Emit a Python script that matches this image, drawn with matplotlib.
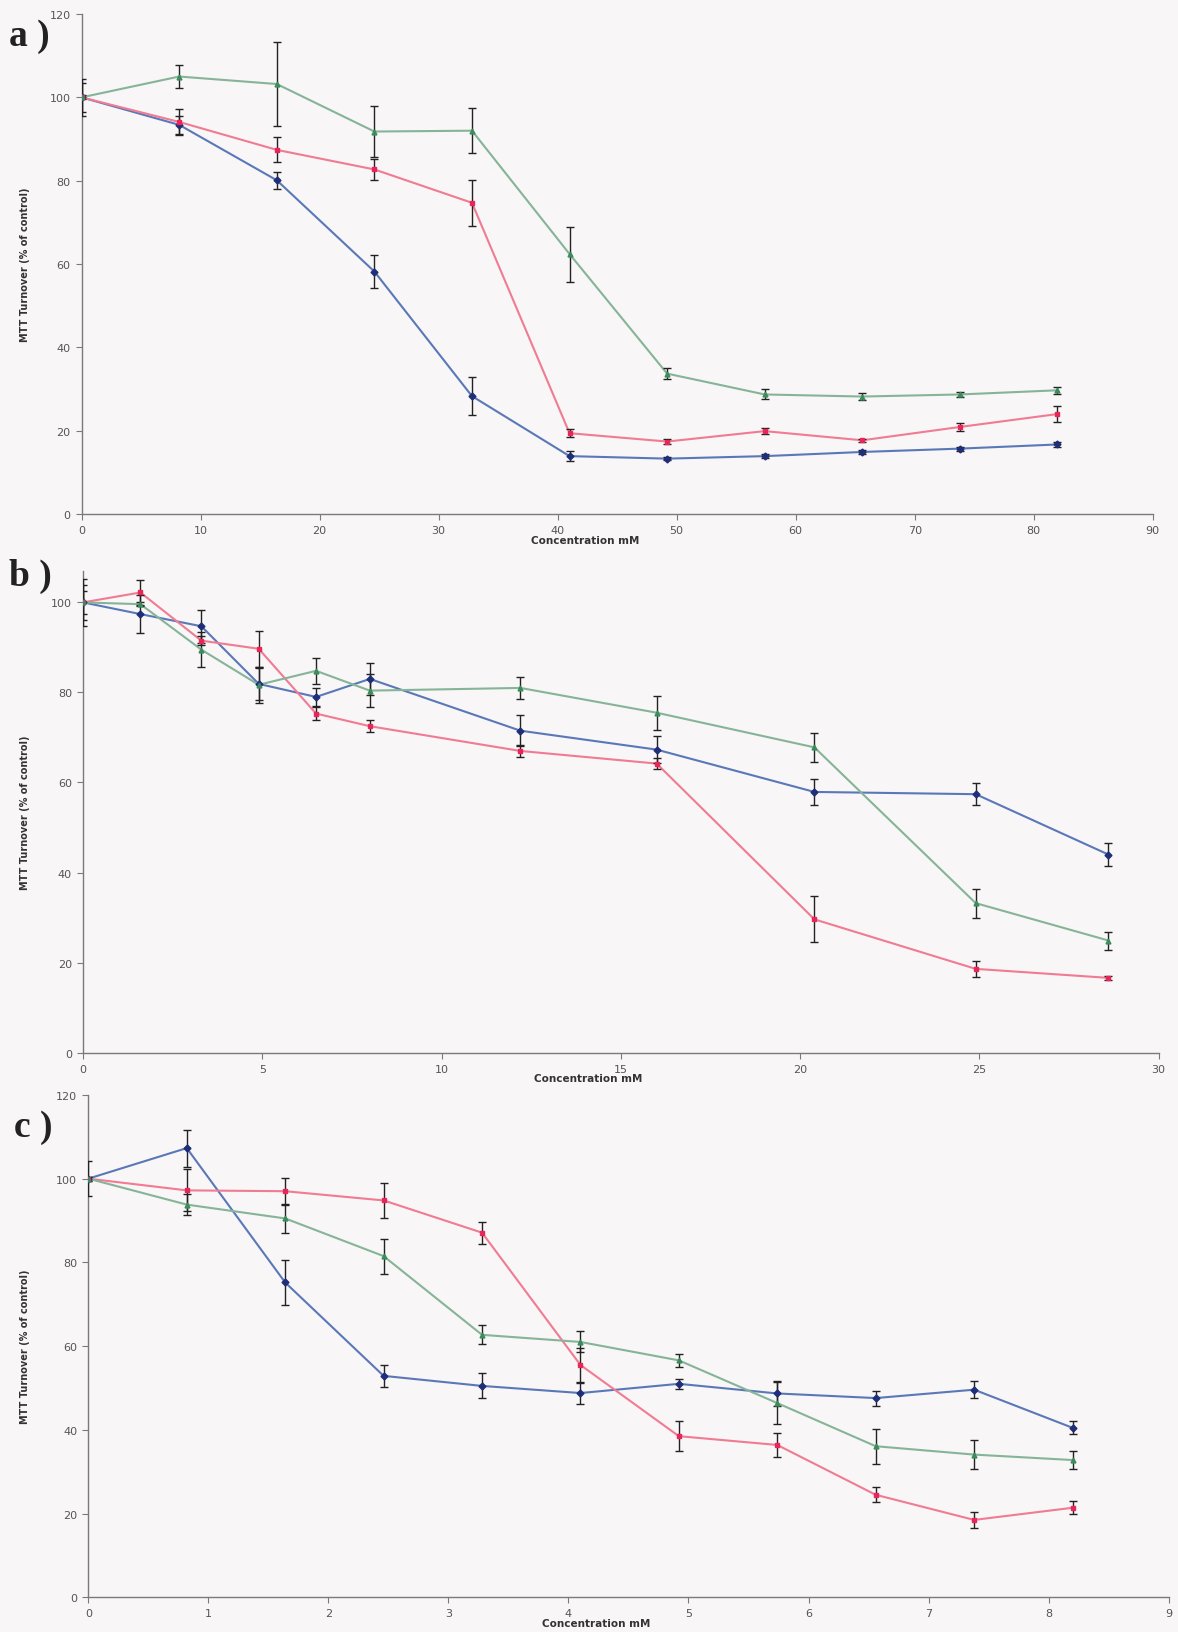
import matplotlib
matplotlib.use("Agg")
import matplotlib.pyplot as plt

# ---- panel a ----
conc_a = [0, 8.2, 16.4, 24.6, 32.8, 41.0, 49.2, 57.4, 65.6, 73.8, 82.0]
blue_a = [100, 93.4, 80.1, 58.2, 28.3, 13.9, 13.3, 13.9, 14.9, 15.7, 16.7]
blue_a_err = [3.5, 2.2, 2.0, 3.9, 4.5, 1.2, 0.4, 0.5, 0.5, 0.5, 0.6]
red_a = [100, 94.1, 87.4, 82.7, 74.7, 19.4, 17.4, 19.9, 17.7, 20.9, 24.0]
red_a_err = [0.5, 3.2, 3.0, 2.6, 5.5, 1.0, 0.5, 0.8, 0.4, 1.0, 2.0]
green_a = [100, 105.0, 103.2, 91.8, 92.0, 62.4, 33.7, 28.7, 28.2, 28.7, 29.7]
green_a_err = [4.5, 2.8, 10.1, 6.1, 5.4, 6.6, 1.3, 1.2, 0.8, 0.5, 0.8]

# ---- panel b ----
conc_b = [0, 1.6, 3.3, 4.9, 6.5, 8.0, 12.2, 16.0, 20.4, 24.9, 28.6]
blue_b = [100, 97.4, 94.7, 81.9, 79.0, 83.0, 71.5, 67.3, 57.9, 57.4, 44.0]
blue_b_err = [5.3, 4.2, 3.7, 3.5, 2.0, 3.5, 3.5, 3.0, 2.9, 2.5, 2.6]
red_b = [100, 102.2, 91.5, 89.7, 75.3, 72.5, 67.0, 64.2, 29.6, 18.6, 16.6]
red_b_err = [2.5, 2.7, 1.0, 4.0, 1.5, 1.3, 1.3, 1.2, 5.1, 1.8, 0.4]
green_b = [100, 99.6, 89.5, 81.7, 84.8, 80.4, 81.0, 75.5, 67.8, 33.2, 24.9]
green_b_err = [3.8, 0.5, 3.9, 4.0, 2.9, 3.7, 2.5, 3.8, 3.3, 3.2, 2.0]

# ---- panel c ----
conc_c = [0, 0.82, 1.64, 2.46, 3.28, 4.10, 4.92, 5.74, 6.56, 7.38, 8.20]
blue_c = [100, 107.3, 75.2, 52.9, 50.5, 48.8, 51.0, 48.7, 47.6, 49.6, 40.5]
blue_c_err = [4.2, 4.4, 5.3, 2.7, 3.0, 2.5, 1.2, 3.0, 1.8, 2.1, 1.6]
red_c = [100, 97.2, 97.0, 94.8, 87.1, 55.5, 38.5, 36.4, 24.5, 18.5, 21.4]
red_c_err = [0.5, 5.0, 3.2, 4.1, 2.6, 4.0, 3.6, 2.8, 1.8, 2.0, 1.6]
green_c = [100, 93.8, 90.5, 81.5, 62.7, 61.0, 56.6, 46.4, 36.1, 34.1, 32.8]
green_c_err = [0.5, 2.5, 3.4, 4.2, 2.3, 2.5, 1.5, 5.0, 4.2, 3.4, 2.1]

panels = [
    ("a )", conc_a, [(blue_a, blue_a_err), (red_a, red_a_err), (green_a, green_a_err)],
     [0.0693, 0.6846, 0.9092, 0.3062], (0, 90), range(0, 91, 10), (0, 120), range(0, 121, 20)),
    ("b )", conc_b, [(blue_b, blue_b_err), (red_b, red_b_err), (green_b, green_b_err)],
     [0.0705, 0.3548, 0.9130, 0.2950], (0, 30), range(0, 31, 5), (0, 107), range(0, 101, 20)),
    ("c )", conc_c, [(blue_c, blue_c_err), (red_c, red_c_err), (green_c, green_c_err)],
     [0.0750, 0.0212, 0.9170, 0.3077], (0, 9), range(0, 10, 1), (0, 120), range(0, 121, 20)),
]

# line colour, marker colour, marker
styles = [("#5a78b8", "#1f2e78", "D"),
          ("#f07b93", "#e8265a", "s"),
          ("#86b498", "#3c8c5c", "^")]

label_pos = [(0.008, 0.972), (0.008, 0.641), (0.012, 0.304)]

fig = plt.figure(figsize=(11.78, 16.33), dpi=100)
fig.patch.set_facecolor("#f8f6f6")

for (lab, conc, series, rect, xlim, xticks, ylim, yticks), lp in zip(panels, label_pos):
    ax = fig.add_axes(rect)
    ax.set_facecolor("none")
    for (vals, errs), (lc, mc, mk) in zip(series, styles):
        ax.errorbar(conc, vals, yerr=errs, fmt="none", ecolor="#222222",
                    elinewidth=1.0, capsize=3, capthick=1.0, zorder=3)
        ax.plot(conc, vals, color=lc, lw=1.5, zorder=2)
        ax.plot(conc, vals, ls="none", marker=mk, ms=3.5, color=mc,
                markeredgecolor=mc, zorder=4)
    ax.set_xlim(xlim)
    ax.set_ylim(ylim)
    ax.set_xticks(list(xticks))
    ax.set_yticks(list(yticks))
    for s in ["top", "right"]:
        ax.spines[s].set_visible(False)
    for s in ["left", "bottom"]:
        ax.spines[s].set_color("#7a7a7a")
        ax.spines[s].set_linewidth(1.0)
    ax.tick_params(direction="out", length=4, width=0.8, color="#7a7a7a",
                   labelsize=8, labelcolor="#555555", pad=4)
    ax.set_xlabel("Concentration mM", fontsize=7.5, fontweight="bold",
                  color="#333333")
    ax.xaxis.set_label_coords(0.47, -0.042)
    fig.text(0.021, rect[1] + rect[3] / 2, "MTT Turnover (% of control)",
             rotation=90, ha="center", va="center", fontsize=7,
             fontweight="bold", color="#333333")
    fig.text(lp[0], lp[1], lab, fontsize=27, fontweight="bold",
             family="Liberation Serif", color="#222222")

plt.savefig("out.png", dpi=100, facecolor=fig.get_facecolor())
